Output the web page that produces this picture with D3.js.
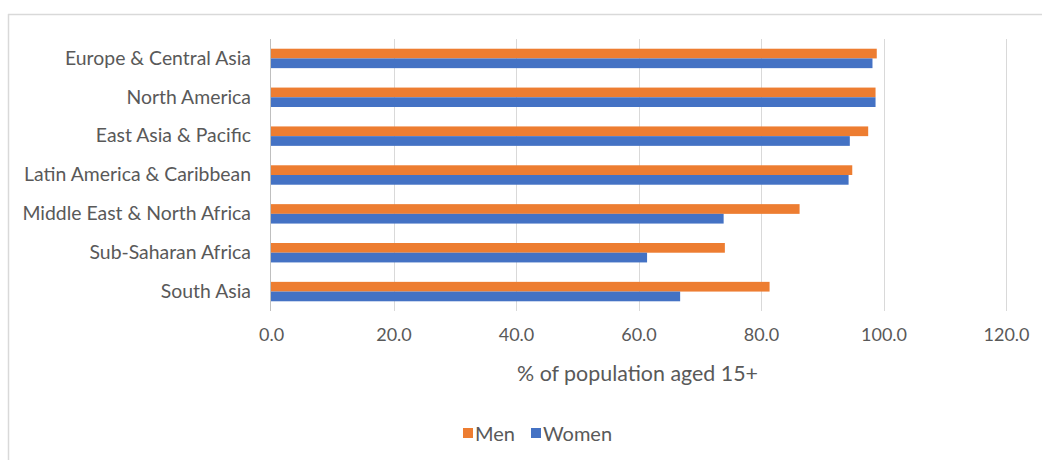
<!DOCTYPE html>
<html>
<head>
<meta charset="utf-8">
<script src="https://cdn.jsdelivr.net/npm/d3@7/dist/d3.min.js"></script>
<style>
  html, body { margin: 0; padding: 0; background: #fff; }
  svg { display: block; }
  text { font-family: Lato, "Open Sans", sans-serif; fill: #595959; }
</style>
</head>
<body>
<svg id="chart" width="1042" height="460"></svg>
<script>
// Account ownership by region, % of population aged 15+
const regions = [
  "Europe & Central Asia",
  "North America",
  "East Asia & Pacific",
  "Latin America & Caribbean",
  "Middle East & North Africa",
  "Sub-Saharan Africa",
  "South Asia"
];
const men   = [98.9, 98.7, 97.5, 94.9, 86.3, 74.1, 81.4];
const women = [98.2, 98.7, 94.5, 94.3, 73.9, 61.4, 66.8];
const seriesNames = ["Men", "Women"];
const seriesColors = ["#ED7D31", "#4472C4"];
const xTicks = [0, 20, 40, 60, 80, 100, 120];
const xTitle = "% of population aged 15+";

const svg = d3.select("#chart");
const W = 1042, H = 460;

// outer frame (top and left edges visible)
svg.append("line").attr("x1", 8).attr("x2", W).attr("y1", 14.5).attr("y2", 14.5)
  .attr("stroke", "#d9d9d9").attr("stroke-width", 1.5);
svg.append("line").attr("x1", 8.5).attr("x2", 8.5).attr("y1", 14).attr("y2", H)
  .attr("stroke", "#d9d9d9").attr("stroke-width", 1.5);

const plot = { left: 271, right: 1006, top: 39, bottom: 311 };

const x = d3.scaleLinear().domain([0, 120]).range([plot.left, plot.right]);
const y = d3.scaleBand().domain(regions).range([plot.top, plot.bottom]).paddingInner(0.5).paddingOuter(0.25);
const ySub = d3.scaleBand().domain(seriesNames).range([0, y.bandwidth()]);

// vertical gridlines
svg.append("g").selectAll("line").data(xTicks.slice(1)).join("line")
  .attr("x1", d => Math.round(x(d)) + 0.5).attr("x2", d => Math.round(x(d)) + 0.5)
  .attr("y1", plot.top).attr("y2", plot.bottom)
  .attr("stroke", "#d9d9d9").attr("stroke-width", 1);

// bars
const series = [men, women];
const g = svg.append("g");
series.forEach((vals, si) => {
  g.append("g").selectAll("rect").data(regions).join("rect")
    .attr("x", x(0))
    .attr("y", (d) => y(d) + ySub(seriesNames[si]))
    .attr("width", (d, i) => x(vals[i]) - x(0))
    .attr("height", ySub.bandwidth())
    .attr("fill", seriesColors[si]);
});

// category axis line
svg.append("line").attr("x1", x(0) - 0.5).attr("x2", x(0) - 0.5)
  .attr("y1", plot.top).attr("y2", plot.bottom)
  .attr("stroke", "#bfbfbf").attr("stroke-width", 1);

// category labels
const yAxis = d3.axisLeft(y).tickSize(0).tickPadding(20);
const yg = svg.append("g").attr("transform", `translate(${x(0)},0)`).call(yAxis);
yg.select(".domain").remove();
yg.selectAll("text").style("font-size", "19.4px").attr("fill", "#595959");

// value axis labels
const xAxis = d3.axisBottom(x).tickValues(xTicks).tickSize(0).tickPadding(17)
  .tickFormat(d3.format(".1f"));
const xg = svg.append("g").attr("transform", `translate(0,${plot.bottom})`).call(xAxis);
xg.select(".domain").remove();
xg.selectAll("text").style("font-size", "18px").attr("fill", "#595959");

// axis title
svg.append("text").attr("x", (x(0) + x(120)) / 2 - 1).attr("y", 381)
  .attr("text-anchor", "middle").style("font-size", "21.4px").text(xTitle);

// legend
const legend = svg.append("g").attr("transform", "translate(463,433)");
const legendX = [0, 68];
seriesNames.forEach((name, i) => {
  const lg = legend.append("g").attr("transform", `translate(${legendX[i]},0)`);
  lg.append("rect").attr("x", 0).attr("y", -5).attr("width", 10).attr("height", 10)
    .attr("fill", seriesColors[i]);
  lg.append("text").attr("x", 12).attr("y", 1).attr("dy", "0.35em")
    .style("font-size", "20px").text(name);
});
</script>
</body>
</html>
